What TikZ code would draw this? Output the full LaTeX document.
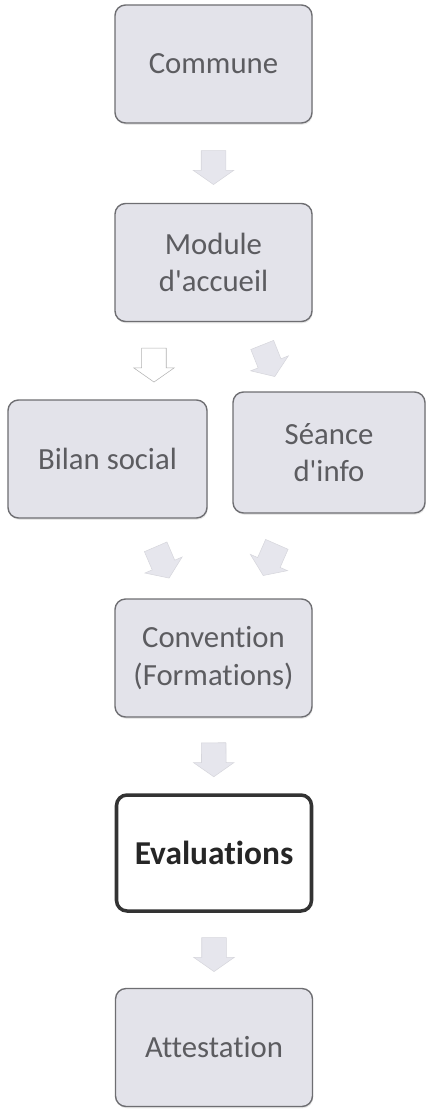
\documentclass[tikz,border=0pt]{standalone}
\usepackage{fontspec}
\setmainfont[Ligatures=NoCommon]{Carlito}
\usetikzlibrary{positioning,shapes.arrows,calc,shadows}

\definecolor{boxfill}{RGB}{227,227,234}
\definecolor{boxline}{RGB}{110,110,114}
\definecolor{boxtext}{RGB}{92,92,96}
\definecolor{arrowfill}{RGB}{230,230,237}

\newcommand{\apos}{\textquotesingle}

\begin{document}
\begin{tikzpicture}[
  font=\fontsize{17.5}{21.5}\selectfont,
  step box/.style={
    draw=boxline, line width=0.8pt, rounded corners=6pt,
    minimum width=3.94cm, minimum height=2.36cm,
    align=center, fill=boxfill, text=boxtext,
    drop shadow={opacity=0.18, shadow xshift=0.4pt, shadow yshift=-1pt},
  },
  key box/.style={
    draw=black!80, line width=2pt, rounded corners=6pt,
    minimum width=3.9cm, minimum height=2.32cm,
    align=center, fill=white, text=black!85,
    font=\fontsize{19}{23}\selectfont\bfseries,
  },
  flow/.style={
    single arrow, sloped, allow upside down,
    fill=arrowfill, draw=arrowfill!93!black, line width=0.3pt,
    inner xsep=0pt, inner ysep=0.24cm,
    minimum height=0.68cm,
    single arrow head extend=0.16cm, single arrow tip angle=110,
  },
  flow open/.style={flow, fill=white, draw=black!30},
]
\useasboundingbox (0,0) rectangle (8.52,-22.18);

\node[step box] (commune) at (4.27,-1.28) {Commune};
\node[step box] (module) at (4.27,-5.25) {Module\\d\apos accueil};
\node[step box, minimum width=3.98cm] (bilan) at (2.15,-9.18) {Bilan social};
\node[step box, minimum width=3.84cm, minimum height=2.42cm] (seance) at (6.58,-9.05) {Séance\\d\apos info};
\node[step box] (convention) at (4.27,-13.16) {Convention\\(Formations)};
\node[key box] (eval) at (4.28,-17.06) {Evaluations};
\node[step box] (attest) at (4.28,-20.95) {Attestation};

% block arrows between the steps
\path (commune) -- node[flow] {} (module);
\path ($(module.south west)!0.2!(module.south east)$) coordinate (mb)
  -- node[flow open] {} (mb |- bilan.north);
\path ($(module.south west)!0.7!(module.south east)$)
  -- node[flow] {} ($(seance.north west)!0.25!(seance.north east)$);
\path ($(bilan.south west)!0.68!(bilan.south east)$)
  -- node[flow] {} ($(convention.north west)!0.32!(convention.north east)$);
\path ($(seance.south west)!0.3!(seance.south east)$)
  -- node[flow] {} ($(convention.north west)!0.7!(convention.north east)$);
\path (convention) -- node[flow] {} (eval);
\path (eval) -- node[flow] {} (attest);

\end{tikzpicture}
\end{document}
